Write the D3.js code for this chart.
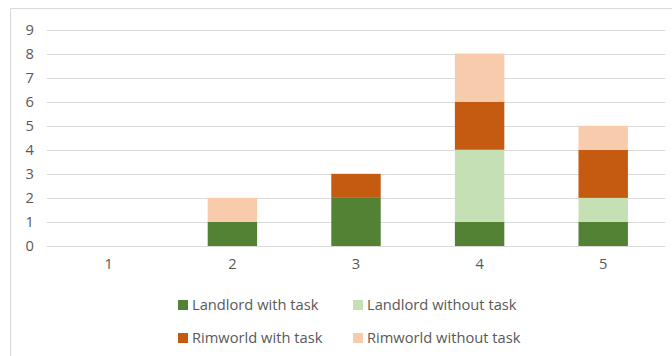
<!DOCTYPE html>
<html>
<head>
<meta charset="utf-8">
<script src="https://cdn.jsdelivr.net/npm/d3@7"></script>
<style>
  html, body { margin: 0; padding: 0; background: #fff; }
  svg { display: block; }
  text { font-family: "Open Sans", "Noto Sans", sans-serif; fill: #595959; }
</style>
</head>
<body>
<svg id="chart" width="672" height="356"></svg>
<script>
// Categories along the x axis
const categories = ["1", "2", "3", "4", "5"];

// Series values, one per category
const landlordWithTask    = [0, 1, 2, 1, 1];
const landlordWithoutTask = [0, 0, 0, 3, 1];
const rimworldWithTask    = [0, 0, 1, 2, 2];
const rimworldWithoutTask = [0, 1, 0, 2, 1];

const seriesNames = ["Landlord with task", "Landlord without task", "Rimworld with task", "Rimworld without task"];
const seriesColors = ["#548235", "#C5E0B4", "#C55A11", "#F8CBAD"];
const yTicks = [0, 1, 2, 3, 4, 5, 6, 7, 8, 9];

const seriesValues = [landlordWithTask, landlordWithoutTask, rimworldWithTask, rimworldWithoutTask];
const rows = categories.map((c, i) => {
  const r = { cat: c };
  seriesNames.forEach((n, k) => { r[n] = seriesValues[k][i]; });
  return r;
});

const svg = d3.select("#chart");
const fontSize = "14.7px";

// Outer chart frame
svg.append("path")
  .attr("d", "M10.5,356 V8.5 H672")
  .attr("fill", "none")
  .attr("stroke", "#d9d9d9")
  .attr("stroke-width", 1);

const plot = { left: 47, right: 665, top: 29.5, bottom: 246 };

const x = d3.scaleBand()
  .domain(categories)
  .range([plot.left, plot.right])
  .paddingInner(0.6)
  .paddingOuter(0.3);

const y = d3.scaleLinear()
  .domain([0, 9])
  .range([plot.bottom, plot.top]);

// Horizontal gridlines
svg.append("g")
  .selectAll("line")
  .data(yTicks)
  .join("line")
  .attr("x1", plot.left)
  .attr("x2", plot.right)
  .attr("y1", d => Math.round(y(d)) + 0.5)
  .attr("y2", d => Math.round(y(d)) + 0.5)
  .attr("stroke", "#d9d9d9")
  .attr("stroke-width", 1);

// Stacked bars
const stack = d3.stack().keys(seriesNames);
const layers = stack(rows);

svg.append("g")
  .selectAll("g")
  .data(layers)
  .join("g")
  .attr("fill", (d, i) => seriesColors[i])
  .selectAll("rect")
  .data(d => d)
  .join("rect")
  .attr("x", d => x(d.data.cat))
  .attr("width", x.bandwidth())
  .attr("y", d => y(d[1]))
  .attr("height", d => y(d[0]) - y(d[1]));

// Y axis labels
const yAxis = d3.axisLeft(y).tickValues(yTicks).tickSize(0).tickPadding(0);
const yg = svg.append("g")
  .attr("transform", `translate(${plot.left - 13},0)`)
  .call(yAxis);
yg.select(".domain").remove();
yg.selectAll("text")
  .attr("text-anchor", "end")
  .style("font-size", fontSize)
  .style("font-family", '"Open Sans", sans-serif')
  .attr("fill", "#595959");

// X axis labels
const xAxis = d3.axisBottom(x).tickSize(0).tickPadding(0);
const xg = svg.append("g")
  .attr("transform", `translate(0,${plot.bottom + 13})`)
  .call(xAxis);
xg.select(".domain").remove();
xg.selectAll("text")
  .style("font-size", fontSize)
  .style("font-family", '"Open Sans", sans-serif')
  .attr("fill", "#595959");

// Legend, two columns by two rows
const legendPos = [
  { x: 178, y: 305 },
  { x: 353, y: 305 },
  { x: 178, y: 338 },
  { x: 353, y: 338 }
];
const legend = svg.append("g")
  .selectAll("g")
  .data(seriesNames)
  .join("g")
  .attr("transform", (d, i) => `translate(${legendPos[i].x},${legendPos[i].y})`);

legend.append("rect")
  .attr("x", 0)
  .attr("y", -5)
  .attr("width", 10)
  .attr("height", 10)
  .attr("fill", (d, i) => seriesColors[i]);

legend.append("text")
  .attr("x", 14)
  .attr("y", 0)
  .attr("dy", "0.35em")
  .style("font-size", fontSize)
  .text(d => d);
</script>
</body>
</html>
